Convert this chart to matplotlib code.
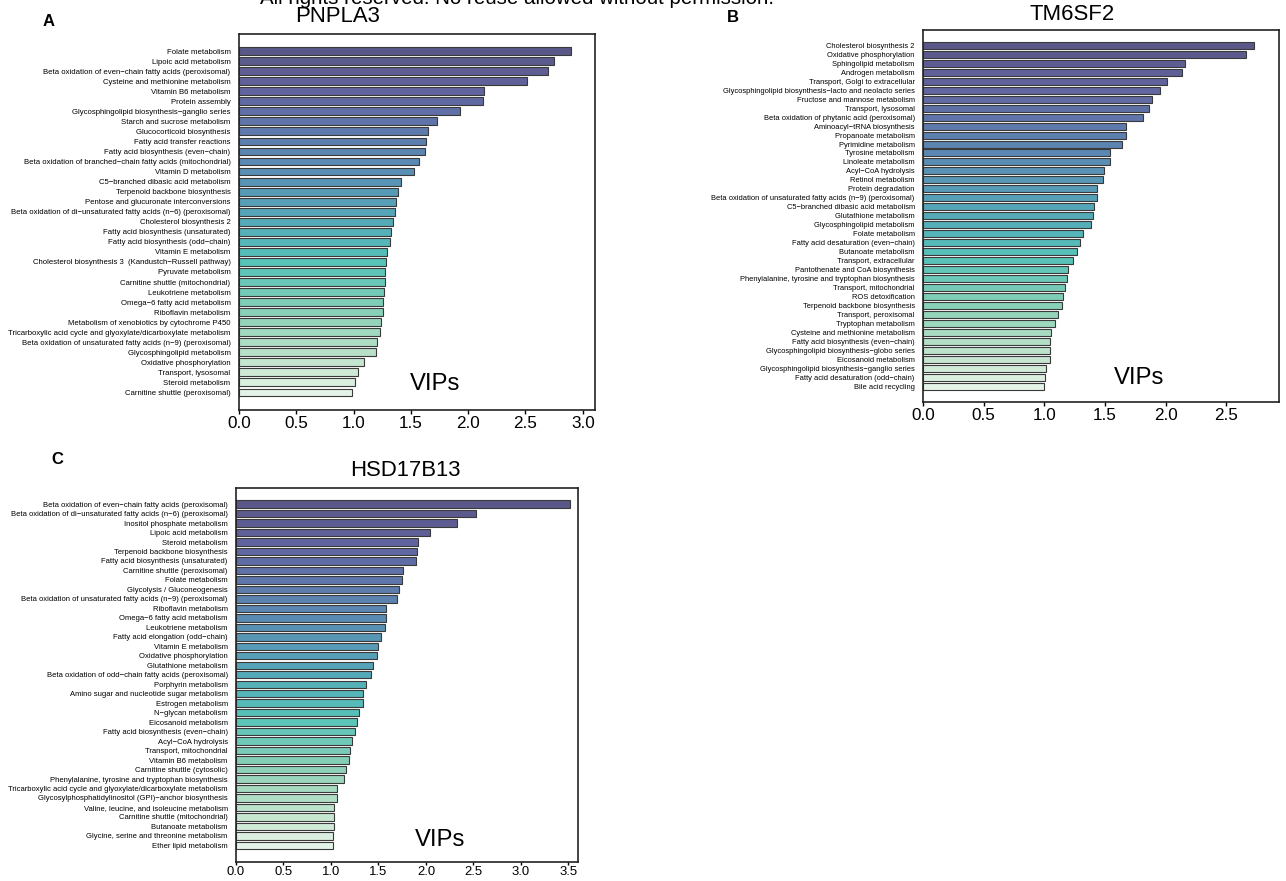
import matplotlib
matplotlib.use("Agg")
import matplotlib.pyplot as plt
import numpy as np
from matplotlib import font_manager
from matplotlib.colors import LinearSegmentedColormap

# font: narrow sans if available
names = {f.name for f in font_manager.fontManager.ttflist}
NARROW = 'Liberation Sans Narrow' in names
FONT = 'Liberation Sans Narrow' if NARROW else 'Liberation Sans'
plt.rcParams['font.family'] = [FONT, 'DejaVu Sans']
SHRINK = 1.0 if NARROW else 0.82  # the reference text is condensed

M = '\u2212'

# Panel A - PNPLA3
pnpla3_labels = [
    "Folate metabolism", "Lipoic acid metabolism",
    f"Beta oxidation of even{M}chain fatty acids (peroxisomal)",
    "Cysteine and methionine metabolism", "Vitamin B6 metabolism", "Protein assembly",
    f"Glycosphingolipid biosynthesis{M}ganglio series", "Starch and sucrose metabolism",
    "Glucocorticoid biosynthesis", "Fatty acid transfer reactions",
    f"Fatty acid biosynthesis (even{M}chain)",
    f"Beta oxidation of branched{M}chain fatty acids (mitochondrial)",
    "Vitamin D metabolism", f"C5{M}branched dibasic acid metabolism",
    "Terpenoid backbone biosynthesis", "Pentose and glucuronate interconversions",
    f"Beta oxidation of di{M}unsaturated fatty acids (n{M}6) (peroxisomal)",
    "Cholesterol biosynthesis 2", "Fatty acid biosynthesis (unsaturated)",
    f"Fatty acid biosynthesis (odd{M}chain)", "Vitamin E metabolism",
    f"Cholesterol biosynthesis 3  (Kandustch{M}Russell pathway)", "Pyruvate metabolism",
    "Carnitine shuttle (mitochondrial)", "Leukotriene metabolism",
    f"Omega{M}6 fatty acid metabolism", "Riboflavin metabolism",
    "Metabolism of xenobiotics by cytochrome P450",
    "Tricarboxylic acid cycle and glyoxylate/dicarboxylate metabolism",
    f"Beta oxidation of unsaturated fatty acids (n{M}9) (peroxisomal)",
    "Glycosphingolipid metabolism", "Oxidative phosphorylation", "Transport, lysosomal",
    "Steroid metabolism", "Carnitine shuttle (peroxisomal)",
]
pnpla3_vips = [2.90, 2.75, 2.70, 2.51, 2.14, 2.13, 1.93, 1.73, 1.65, 1.63, 1.62, 1.575,
               1.53, 1.415, 1.39, 1.37, 1.36, 1.345, 1.33, 1.32, 1.29, 1.285, 1.275, 1.272,
               1.266, 1.26, 1.255, 1.24, 1.23, 1.205, 1.20, 1.09, 1.04, 1.013, 0.99]

# Panel B - TM6SF2
tm6sf2_labels = [
    "Cholesterol biosynthesis 2", "Oxidative phosphorylation", "Sphingolipid metabolism",
    "Androgen metabolism", "Transport, Golgi to extracellular",
    f"Glycosphingolipid biosynthesis{M}lacto and neolacto series",
    "Fructose and mannose metabolism", "Transport, lysosomal",
    "Beta oxidation of phytanic acid (peroxisomal)", f"Aminoacyl{M}tRNA biosynthesis",
    "Propanoate metabolism", "Pyrimidine metabolism", "Tyrosine metabolism",
    "Linoleate metabolism", f"Acyl{M}CoA hydrolysis", "Retinol metabolism",
    "Protein degradation",
    f"Beta oxidation of unsaturated fatty acids (n{M}9) (peroxisomal)",
    f"C5{M}branched dibasic acid metabolism", "Glutathione metabolism",
    "Glycosphingolipid metabolism", "Folate metabolism",
    f"Fatty acid desaturation (even{M}chain)", "Butanoate metabolism",
    "Transport, extracellular", "Pantothenate and CoA biosynthesis",
    "Phenylalanine, tyrosine and tryptophan biosynthesis", "Transport, mitochondrial",
    "ROS detoxification", "Terpenoid backbone biosynthesis", "Transport, peroxisomal",
    "Tryptophan metabolism", "Cysteine and methionine metabolism",
    f"Fatty acid biosynthesis (even{M}chain)", f"Glycosphingolipid biosynthesis{M}globo series",
    "Eicosanoid metabolism", f"Glycosphingolipid biosynthesis{M}ganglio series",
    f"Fatty acid desaturation (odd{M}chain)", "Bile acid recycling",
]
tm6sf2_vips = [2.73, 2.66, 2.157, 2.135, 2.01, 1.953, 1.89, 1.865, 1.81, 1.676, 1.676,
               1.643, 1.54, 1.54, 1.49, 1.48, 1.43, 1.43, 1.41, 1.40, 1.385, 1.32, 1.29,
               1.27, 1.236, 1.195, 1.184, 1.17, 1.154, 1.146, 1.113, 1.088, 1.058, 1.047,
               1.047, 1.047, 1.016, 1.005, 0.995]

# Panel C - HSD17B13
hsd17b13_labels = [
    f"Beta oxidation of even{M}chain fatty acids (peroxisomal)",
    f"Beta oxidation of di{M}unsaturated fatty acids (n{M}6) (peroxisomal)",
    "Inositol phosphate metabolism", "Lipoic acid metabolism", "Steroid metabolism",
    "Terpenoid backbone biosynthesis", "Fatty acid biosynthesis (unsaturated)",
    "Carnitine shuttle (peroxisomal)", "Folate metabolism", "Glycolysis / Gluconeogenesis",
    f"Beta oxidation of unsaturated fatty acids (n{M}9) (peroxisomal)",
    "Riboflavin metabolism", f"Omega{M}6 fatty acid metabolism", "Leukotriene metabolism",
    f"Fatty acid elongation (odd{M}chain)", "Vitamin E metabolism",
    "Oxidative phosphorylation", "Glutathione metabolism",
    f"Beta oxidation of odd{M}chain fatty acids (peroxisomal)", "Porphyrin metabolism",
    "Amino sugar and nucleotide sugar metabolism", "Estrogen metabolism",
    f"N{M}glycan metabolism", "Eicosanoid metabolism",
    f"Fatty acid biosynthesis (even{M}chain)", f"Acyl{M}CoA hydrolysis",
    "Transport, mitochondrial", "Vitamin B6 metabolism", "Carnitine shuttle (cytosolic)",
    "Phenylalanine, tyrosine and tryptophan biosynthesis",
    "Tricarboxylic acid cycle and glyoxylate/dicarboxylate metabolism",
    f"Glycosylphosphatidylinositol (GPI){M}anchor biosynthesis",
    "Valine, leucine, and isoleucine metabolism", "Carnitine shuttle (mitochondrial)",
    "Butanoate metabolism", "Glycine, serine and threonine metabolism",
    "Ether lipid metabolism",
]
hsd17b13_vips = [3.52, 2.53, 2.33, 2.04, 1.92, 1.91, 1.90, 1.76, 1.75, 1.72, 1.70, 1.58,
                 1.58, 1.57, 1.53, 1.50, 1.48, 1.44, 1.42, 1.37, 1.34, 1.34, 1.29, 1.27,
                 1.25, 1.22, 1.20, 1.19, 1.16, 1.14, 1.068, 1.06, 1.036, 1.034, 1.03,
                 1.025, 1.02]

cmap = LinearSegmentedColormap.from_list(
    "vip", [(0.0, "#5a5888"), (0.12, "#6264a0"), (0.3, "#5b86b2"), (0.48, "#55a6b8"),
            (0.62, "#56c2b8"), (0.76, "#86cfb6"), (0.9, "#bfe3cb"), (1.0, "#e4f3e8")])


def vip_panel(ax, labels, vips, xmax, ticks, label_size, tick_size, vip_xy,
              tick_len=3, tick_pad=1.5):
    n = len(labels)
    y = np.arange(n)
    colors = cmap(np.linspace(0, 1, n))
    ax.barh(y, vips, height=0.78, color=colors, edgecolor="#3a3a3a", linewidth=0.8)
    ax.set_yticks(y)
    ax.set_yticklabels(labels, fontsize=label_size * SHRINK)
    ax.set_ylim(n - 1 + 1.75, -1.7)
    ax.set_xlim(0, xmax)
    ax.set_xticks(ticks)
    ax.set_xticklabels([f"{t:.1f}" for t in ticks], fontsize=tick_size * SHRINK)
    ax.tick_params(axis="y", length=0, pad=6)
    ax.tick_params(axis="x", length=tick_len, width=1, pad=tick_pad)
    for s in ax.spines.values():
        s.set_linewidth(1.2)
        s.set_color("#222222")
    ax.text(vip_xy[0], vip_xy[1], "VIPs", transform=ax.transAxes, fontsize=19 * SHRINK ** 0.5,
            ha="center", va="center")


fig = plt.figure(figsize=(12.86, 8.81), dpi=100)

axA = fig.add_axes([0.1858, 0.5346, 0.2769, 0.4268])
vip_panel(axA, pnpla3_labels, pnpla3_vips, 3.107, [0, 0.5, 1, 1.5, 2, 2.5, 3],
          6.8, 15, (0.55, 0.07))

axB = fig.add_axes([0.7177, 0.5437, 0.2769, 0.4222])
vip_panel(axB, tm6sf2_labels, tm6sf2_vips, 2.934, [0, 0.5, 1, 1.5, 2, 2.5],
          6.6, 15, (0.607, 0.065))

axC = fig.add_axes([0.1835, 0.0216, 0.2659, 0.4245])
vip_panel(axC, hsd17b13_labels, hsd17b13_vips, 3.6, [0, 0.5, 1, 1.5, 2, 2.5, 3, 3.5],
          6.75, 11.5, (0.596, 0.058), tick_len=2.5, tick_pad=0.5)

# titles and panel letters
title_size = 18 * SHRINK ** 0.6
fig.text(338 / 1286, 1 - 17 / 881, "PNPLA3", fontsize=title_size, ha="center", va="center")
fig.text(1072 / 1286, 1 - 14 / 881, "TM6SF2", fontsize=title_size, ha="center", va="center")
fig.text(405 / 1286, 1 - 471 / 881, "HSD17B13", fontsize=title_size, ha="center", va="center")
fig.text(49 / 1286, 1 - 22 / 881, "A", fontsize=12, fontweight="bold", ha="center", va="center")
fig.text(733 / 1286, 1 - 18 / 881, "B", fontsize=12, fontweight="bold", ha="center", va="center")
fig.text(57 / 1286, 1 - 460 / 881, "C", fontsize=12, fontweight="bold", ha="center", va="center")

# cut-off header line
fig.text(517 / 1286, 1 - 4 / 881, "All rights reserved. No reuse allowed without permission.",
         fontsize=18 * SHRINK, ha="center", va="baseline")

fig.savefig("out.png", dpi=100)
